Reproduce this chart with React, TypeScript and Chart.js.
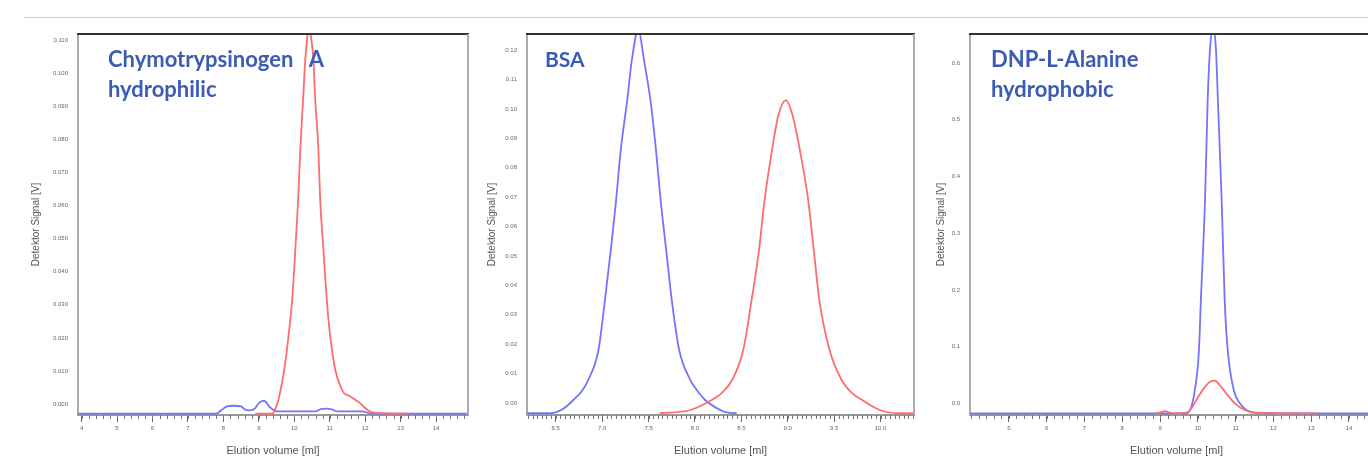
import React, { useEffect, useRef } from 'react';
import { Chart, registerables } from 'chart.js';

Chart.register(...registerables);

// ---------- Panel 1: Chymotrypsinogen A ----------
const p1XTicks = [4, 5, 6, 7, 8, 9, 10, 11, 12, 13, 14];
const p1YTicks = [0, 0.01, 0.02, 0.03, 0.04, 0.05, 0.06, 0.07, 0.08, 0.09, 0.1, 0.11];
const p1BlueX = [3.9, 7.8, 7.95, 8.1, 8.3, 8.5, 8.6, 8.75, 8.9, 9.0, 9.15, 9.3, 9.5, 10.6, 10.75, 10.9, 11.05, 11.2, 11.9, 12.2, 14.9];
const p1BlueY = [-0.0029, -0.0029, -0.0018, -0.0007, -0.0005, -0.0007, -0.0016, -0.0019, -0.0012, 0.0003, 0.001, -0.0008, -0.0022, -0.0022, -0.0015, -0.0014, -0.0016, -0.0022, -0.0022, -0.0029, -0.0029];
const p1RedX = [8.9, 9.38, 9.5, 9.58, 9.72, 9.86, 9.95, 10.03, 10.11, 10.17, 10.25, 10.31, 10.37, 10.42, 10.47, 10.54, 10.59, 10.68, 10.73, 10.82, 10.9, 10.99, 11.07, 11.15, 11.28, 11.41, 11.55, 11.69, 11.83, 11.97, 12.1, 12.3, 13.25];
const p1RedY = [-0.0029, -0.0029, -0.0005, 0.0025, 0.0106, 0.0227, 0.0327, 0.0468, 0.0619, 0.077, 0.0921, 0.104, 0.111, 0.115, 0.111, 0.104, 0.092, 0.077, 0.062, 0.047, 0.034, 0.0227, 0.016, 0.0106, 0.006, 0.0032, 0.0025, 0.0015, 0.0005, -0.0009, -0.002, -0.0027, -0.0029];

// ---------- Panel 2: BSA ----------
const p2XTicks = [6.5, 7.0, 7.5, 8.0, 8.5, 9.0, 9.5, 10.0];
const p2YTicks = [0, 0.01, 0.02, 0.03, 0.04, 0.05, 0.06, 0.07, 0.08, 0.09, 0.1, 0.11, 0.12];
const p2BlueX = [6.19, 6.45, 6.58, 6.69, 6.78, 6.85, 6.96, 7.03, 7.1, 7.15, 7.2, 7.27, 7.32, 7.39, 7.45, 7.52, 7.58, 7.63, 7.69, 7.75, 7.83, 7.95, 8.03, 8.11, 8.22, 8.34, 8.45];
const p2BlueY = [-0.0035, -0.0035, -0.002, 0.001, 0.004, 0.0078, 0.018, 0.035, 0.054, 0.069, 0.086, 0.103, 0.1167, 0.127, 0.1167, 0.103, 0.086, 0.069, 0.052, 0.035, 0.018, 0.0078, 0.004, 0.001, -0.0015, -0.0032, -0.0035];
const p2RedX = [7.62, 7.95, 8.18, 8.29, 8.4, 8.52, 8.61, 8.69, 8.75, 8.83, 8.9, 8.98, 9.05, 9.13, 9.22, 9.28, 9.34, 9.45, 9.58, 9.69, 9.8, 9.99, 10.2, 10.36];
const p2RedY = [-0.0035, -0.0024, 0.001, 0.0034, 0.0078, 0.018, 0.035, 0.052, 0.069, 0.086, 0.098, 0.103, 0.098, 0.086, 0.069, 0.052, 0.035, 0.018, 0.0078, 0.0034, 0.001, -0.0024, -0.0035, -0.0035];

// ---------- Panel 3: DNP-L-Alanine ----------
const p3XTicks = [5, 6, 7, 8, 9, 10, 11, 12, 13, 14];
const p3YTicks = [0, 0.1, 0.2, 0.3, 0.4, 0.5, 0.6];
const p3BlueX = [3.97, 9.7, 9.83, 9.92, 10.03, 10.08, 10.19, 10.26, 10.32, 10.4, 10.48, 10.53, 10.63, 10.71, 10.79, 10.95, 11.11, 11.38, 11.72, 14.9];
const p3BlueY = [-0.0176, -0.0176, -0.006, 0.0235, 0.094, 0.182, 0.359, 0.535, 0.623, 0.665, 0.623, 0.535, 0.359, 0.182, 0.094, 0.0235, 0.0, -0.0147, -0.0176, -0.0176];
const p3RedX = [8.86, 9.0, 9.13, 9.25, 9.35, 9.7, 9.83, 10.01, 10.19, 10.32, 10.45, 10.58, 10.75, 10.98, 11.24, 11.55, 13.14];
const p3RedY = [-0.0176, -0.0165, -0.0136, -0.0165, -0.0176, -0.0166, -0.0088, 0.0116, 0.029, 0.038, 0.04, 0.032, 0.0176, 0.0, -0.0118, -0.0166, -0.0176];

const BLUE = 'rgb(115,115,255)';
const RED = 'rgb(255,108,108)';
const AXIS_FONT = 'Liberation Sans';

const framePlugin = {
  id: 'frame',
  afterDraw(chart: any, _args: any, opts: any) {
    const { ctx, chartArea } = chart;
    const { left, right, top, bottom } = chartArea;
    const x = chart.scales.x;
    ctx.save();
    ctx.strokeStyle = '#777';
    ctx.lineWidth = 1;
    const step = opts.minorStep;
    const i0 = Math.ceil(x.min / step - 1e-9);
    const i1 = Math.floor(x.max / step + 1e-9);
    for (let i = i0; i <= i1; i++) {
      const v = i * step;
      const px = Math.round(x.getPixelForValue(v)) + 0.5;
      ctx.beginPath();
      ctx.moveTo(px, bottom);
      ctx.lineTo(px, bottom + opts.minorLen);
      ctx.stroke();
    }
    ctx.strokeStyle = '#333';
    ctx.lineWidth = 2;
    ctx.beginPath();
    ctx.moveTo(left - 1, top);
    ctx.lineTo(right + 1, top);
    ctx.stroke();
    ctx.strokeStyle = '#aaa';
    ctx.beginPath();
    ctx.moveTo(right, top);
    ctx.lineTo(right, bottom);
    ctx.stroke();
    ctx.restore();
  },
};

type Series = { x: number[]; y: number[]; color: string };
type PanelProps = {
  left: number;
  width: number;
  padLeft: number;
  yWidth: number;
  padRight: number;
  xMin: number;
  xMax: number;
  yMin: number;
  yMax: number;
  xTicks: number[];
  yTicks: number[];
  xDec: number;
  yDec: number;
  minorStep: number;
  series: Series[];
};

function Panel(p: PanelProps) {
  const ref = useRef<HTMLCanvasElement | null>(null);
  useEffect(() => {
    if (!ref.current) return;
    const chart = new Chart(ref.current, {
      type: 'line',
      data: {
        datasets: p.series.map((s) => ({
          data: s.x.map((xv, i) => ({ x: xv, y: s.y[i] })),
          borderColor: s.color,
          borderWidth: 1.8,
          pointRadius: 0,
          fill: false,
          cubicInterpolationMode: 'monotone' as const,
        })),
      },
      options: {
        animation: false,
        responsive: false,
        devicePixelRatio: 1,
        layout: { padding: { top: 34, left: p.padLeft, right: p.padRight, bottom: 0 } },
        plugins: {
          legend: { display: false },
          tooltip: { enabled: false },
          // @ts-ignore
          frame: { minorStep: p.minorStep, minorLen: 4 },
        },
        scales: {
          x: {
            type: 'linear',
            min: p.xMin,
            max: p.xMax,
            afterBuildTicks: (s: any) => {
              s.ticks = p.xTicks.map((v) => ({ value: v }));
            },
            afterFit: (s: any) => {
              s.height = 43;
            },
            grid: { drawOnChartArea: false, drawTicks: true, tickLength: 7, tickColor: '#666', tickWidth: 1 },
            border: { color: '#999', width: 2 },
            ticks: {
              autoSkip: false,
              maxRotation: 0,
              padding: 3,
              color: '#666',
              font: { family: AXIS_FONT, size: 6 },
              callback: (v: any) => Number(v).toFixed(p.xDec),
            },
            title: {
              display: true,
              text: 'Elution volume [ml]',
              color: '#555',
              font: { family: AXIS_FONT, size: 11 },
              padding: { top: 0, bottom: 0 },
            },
          },
          y: {
            type: 'linear',
            min: p.yMin,
            max: p.yMax,
            afterBuildTicks: (s: any) => {
              s.ticks = p.yTicks.map((v) => ({ value: v }));
            },
            afterFit: (s: any) => {
              s.width = p.yWidth;
            },
            grid: { drawOnChartArea: false, drawTicks: false },
            border: { color: '#aaa', width: 2 },
            ticks: {
              padding: 10,
              color: '#666',
              font: { family: AXIS_FONT, size: 6 },
              callback: (v: any) => Number(v).toFixed(p.yDec),
            },
            title: {
              display: true,
              text: 'Detektor Signal [V]',
              color: '#555',
              font: { family: AXIS_FONT, size: 10 },
              padding: { top: 0, bottom: 0 },
            },
          },
        },
      },
      plugins: [framePlugin],
    } as any);
    return () => chart.destroy();
  }, []);
  return (
    <canvas
      ref={ref}
      width={p.width}
      height={458}
      style={{ position: 'absolute', left: p.left, top: 0, width: p.width, height: 458 }}
    />
  );
}

const labelStyle: React.CSSProperties = {
  position: 'absolute',
  top: 44,
  fontFamily: 'Lato, "Open Sans", sans-serif',
  fontWeight: 700,
  fontSize: 22,
  lineHeight: '30px',
  color: '#3b5bb5',
  whiteSpace: 'nowrap',
};

export default function App() {
  return (
    <div
      style={{
        position: 'fixed',
        left: 0,
        top: 0,
        width: 1368,
        height: 458,
        overflow: 'hidden',
        background: '#fff',
      }}
    >
      <div style={{ position: 'absolute', left: 24, right: 0, top: 17, height: 1, background: '#cfcfcf' }} />
      <Panel
        left={0}
        width={476}
        padLeft={30}
        yWidth={48}
        padRight={8}
        xMin={3.9}
        xMax={14.9}
        yMin={-0.0033}
        yMax={0.1118}
        xTicks={p1XTicks}
        yTicks={p1YTicks}
        xDec={0}
        yDec={3}
        minorStep={0.2}
        series={[
          { x: p1RedX, y: p1RedY, color: RED },
          { x: p1BlueX, y: p1BlueY, color: BLUE },
        ]}
      />
      <Panel
        left={478}
        width={442}
        padLeft={8}
        yWidth={41}
        padRight={6}
        xMin={6.19}
        xMax={10.36}
        yMin={-0.0041}
        yMax={0.1255}
        xTicks={p2XTicks}
        yTicks={p2YTicks}
        xDec={1}
        yDec={2}
        minorStep={0.05}
        series={[
          { x: p2RedX, y: p2RedY, color: RED },
          { x: p2BlueX, y: p2BlueY, color: BLUE },
        ]}
      />
      <Panel
        left={925}
        width={465}
        padLeft={10}
        yWidth={35}
        padRight={7}
        xMin={3.97}
        xMax={14.9}
        yMin={-0.0206}
        yMax={0.6514}
        xTicks={p3XTicks}
        yTicks={p3YTicks}
        xDec={0}
        yDec={1}
        minorStep={0.2}
        series={[
          { x: p3RedX, y: p3RedY, color: RED },
          { x: p3BlueX, y: p3BlueY, color: BLUE },
        ]}
      />
      <div style={{ ...labelStyle, left: 108 }}>
        Chymotrypsinogen <span style={{ marginLeft: 10 }}>A</span>
        <br />
        hydrophilic
      </div>
      <div style={{ ...labelStyle, left: 545, fontSize: 21 }}>BSA</div>
      <div style={{ ...labelStyle, left: 991 }}>
        DNP-L-Alanine
        <br />
        hydrophobic
      </div>
    </div>
  );
}
